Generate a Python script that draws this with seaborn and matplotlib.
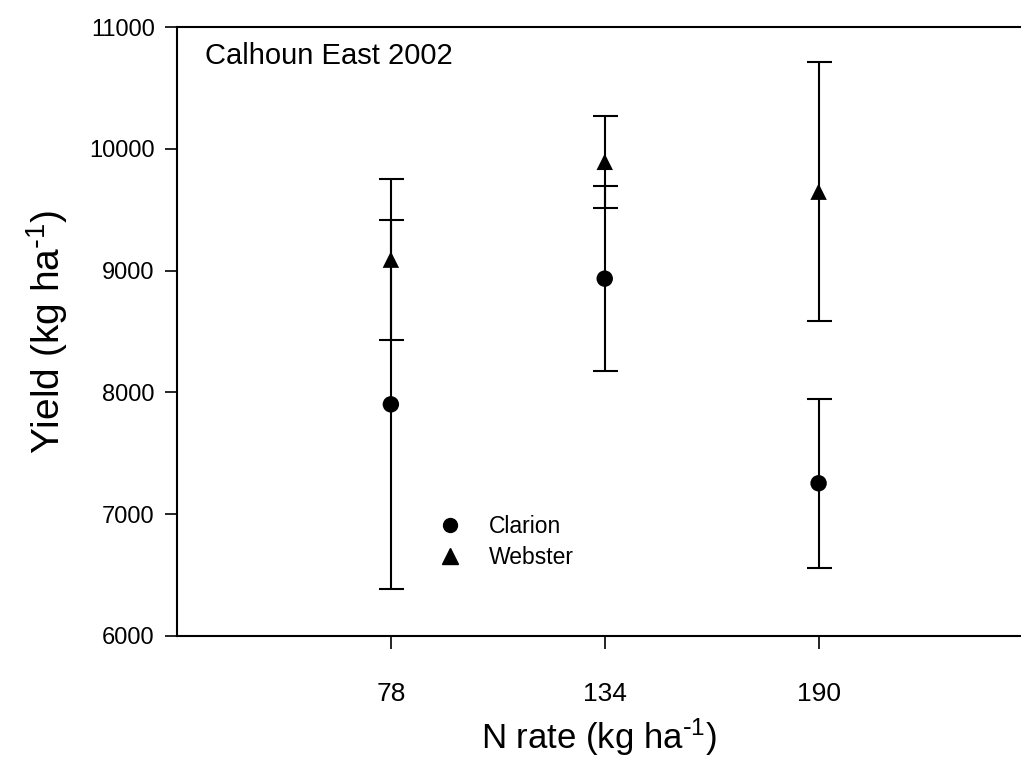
import matplotlib
matplotlib.use('Agg')
import matplotlib.pyplot as plt
from matplotlib.lines import Line2D
import seaborn as sns
import pandas as pd

sns.set_style("ticks")
plt.rcParams['font.family'] = ['Liberation Sans', 'DejaVu Sans']
plt.rcParams['mathtext.default'] = 'regular'
for key in ['text.color', 'axes.labelcolor', 'xtick.color', 'ytick.color']:
    plt.rcParams[key] = 'black'

# N rates and yield means / error half-widths
n_rates = [78, 134, 190]
clarion_mean = [7902, 8934, 7254]
clarion_err = [1515, 758, 693]
webster_mean = [9090, 9893, 9648]
webster_err = [660, 377, 1065]

df = pd.DataFrame({
    'N': n_rates * 2,
    'Yield': clarion_mean + webster_mean,
    'err': clarion_err + webster_err,
    'Soil': ['Clarion'] * 3 + ['Webster'] * 3,
})

fig = plt.figure(figsize=(10.21, 7.61), dpi=100)
ax = fig.add_axes([177 / 1021, 125 / 761, 844 / 1021, 609 / 761])

# error bars first so markers sit on top
for soil, grp in df.groupby('Soil'):
    ax.errorbar(grp['N'], grp['Yield'], yerr=grp['err'], fmt='none',
                ecolor='black', elinewidth=1.5, capsize=9, capthick=1.5, zorder=2)

sns.scatterplot(data=df, x='N', y='Yield', style='Soil', markers={'Clarion': 'o', 'Webster': '^'},
                color='black', s=140, edgecolor='black', linewidth=0, ax=ax, legend=False, zorder=3)

ax.set_xlim(22, 243)
ax.set_ylim(6000, 11000)
ax.set_xticks(n_rates)
ax.set_xticklabels([str(n) for n in n_rates])
ax.set_yticks([6000, 7000, 8000, 9000, 10000, 11000])

for side in ['top', 'left', 'bottom']:
    ax.spines[side].set_linewidth(1.5)
    ax.spines[side].set_color('black')
ax.spines['right'].set_visible(False)

ax.tick_params(axis='y', direction='out', length=9, width=1.2, labelsize=17, pad=7)
ax.tick_params(axis='x', direction='out', length=9, width=1.2, labelsize=19, pad=24)

ax.set_xlabel(r'N rate (kg ha$^{\text{-}1}$)', fontsize=25, labelpad=8)
ax.set_ylabel(r'Yield (kg ha$^{\text{-}1}$)', fontsize=28, labelpad=14)

ax.text(0.033, 0.975, 'Calhoun East 2002', transform=ax.transAxes,
        fontsize=21, va='top', ha='left')

handles = [
    Line2D([], [], marker='o', color='black', linestyle='none', markersize=10),
    Line2D([], [], marker='^', color='black', linestyle='none', markersize=11),
]
ax.legend(handles, ['Clarion', 'Webster'], frameon=False, fontsize=16.5,
          loc='upper left', bbox_to_anchor=(0.283, 0.232), handlelength=1.2,
          handletextpad=1.1, labelspacing=0.35)

fig.savefig('out.png', dpi=100)
